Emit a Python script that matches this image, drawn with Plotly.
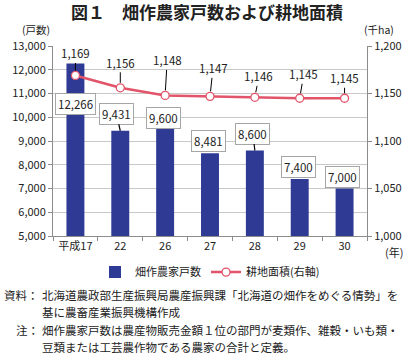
import plotly.graph_objects as go

categories = ["平成17", "22", "26", "27", "28", "29", "30"]
farm_households = [12266, 9431, 9600, 8481, 8600, 7400, 7000]
farmland_area = [1169, 1156, 1148, 1147, 1146, 1145, 1145]

FONT = "Noto Sans CJK JP"
BAR_COLOR = "#2E3A94"
LINE_COLOR = "#E25469"

fig = go.Figure()
fig.add_trace(go.Bar(
    x=categories, y=farm_households, name="畑作農家戸数",
    marker=dict(color=BAR_COLOR, line=dict(width=0)), width=0.4,
))
fig.add_trace(go.Scatter(
    x=categories, y=farmland_area, name="耕地面積(右軸)", yaxis="y2",
    mode="lines+markers",
    line=dict(color=LINE_COLOR, width=2.5),
    marker=dict(symbol="circle", size=8, color="white",
                line=dict(color=LINE_COLOR, width=1.3)),
))

# label offsets (pixels) for bar value labels: (dx, dy, leader)
bar_offsets = [(0, 41, False), (-4, -17, True), (-2, -9, False), (-2, -12, False),
               (-2, -17, True), (-1, -12, False), (-2, -12, False)]
line_offsets = [(0, -22), (0, -25), (2, -35), (3, -28), (4, -21), (4, -24), (0, -20)]

anns = []
for i, (v, (dx, dy, lead)) in enumerate(zip(farm_households, bar_offsets)):
    anns.append(dict(
        x=i, y=v, xref="x", yref="y", text=f"{v:,}",
        showarrow=True, ax=dx, ay=dy, arrowhead=0, arrowwidth=1.2,
        arrowcolor="black" if lead else "rgba(0,0,0,0)",
        bgcolor="white", bordercolor="#A6A6A6", borderwidth=1, borderpad=2,
        font=dict(family=FONT, size=11.5, color="#222"),
    ))
for i, (v, (dx, dy)) in enumerate(zip(farmland_area, line_offsets)):
    anns.append(dict(
        x=i, y=v, xref="x", yref="y2", text=f"{v:,}",
        showarrow=True, ax=dx, ay=dy, arrowhead=0, arrowwidth=1, standoff=5,
        startstandoff=0, arrowcolor="black",
        font=dict(family=FONT, size=11.5, color="#222"),
    ))

# titles and notes
anns += [
    dict(text="<b>図１　畑作農家戸数および耕地面積</b>", xref="paper", yref="paper",
         x=0.49, y=1.0, yshift=35, showarrow=False, xanchor="center", yanchor="middle",
         font=dict(family=FONT, size=17, color="#222")),
    dict(text="(戸数)", xref="paper", yref="paper", x=0, xshift=-17, y=1.0, yshift=17,
         showarrow=False, xanchor="center", yanchor="middle",
         font=dict(family=FONT, size=10.5, color="#222")),
    dict(text="(千ha)", xref="paper", yref="paper", x=1, xshift=12, y=1.0, yshift=17,
         showarrow=False, xanchor="center", yanchor="middle",
         font=dict(family=FONT, size=10.5, color="#222")),
    dict(text="(年)", xref="paper", yref="paper", x=1, xshift=27, y=0, yshift=-16,
         showarrow=False, xanchor="center", yanchor="middle",
         font=dict(family=FONT, size=11, color="#222")),
]
notes = [
    ("資料：", "北海道農政部生産振興局農産振興課「北海道の畑作をめぐる情勢」を", 295),
    ("", "基に農畜産業振興機構作成", 312),
    ("注：", "畑作農家戸数は農産物販売金額１位の部門が麦類作、雑穀・いも類・", 330),
    ("", "豆類または工芸農作物である農家の合計と定義。", 347),
]
T, PH = 46, 190
for head, body, ypx in notes:
    yp = (T + PH - ypx) / PH
    if head:
        anns.append(dict(text=head, xref="paper", yref="paper", x=0, xshift=-12, y=yp,
                         showarrow=False, xanchor="right", yanchor="middle",
                         font=dict(family=FONT, size=11.5, color="#222")))
    anns.append(dict(text=body, xref="paper", yref="paper", x=0, xshift=-13, y=yp,
                     showarrow=False, xanchor="left", yanchor="middle",
                     font=dict(family=FONT, size=11.5, color="#222")))

fig.update_layout(
    width=414, height=357,
    margin=dict(l=50, r=44, t=46, b=121, pad=0),
    paper_bgcolor="white", plot_bgcolor="white",
    font=dict(family=FONT, size=11, color="#222"),
    showlegend=True,
    legend=dict(orientation="h", x=0.5, xanchor="center", y=-0.19, yanchor="middle",
                font=dict(family=FONT, size=11, color="#222"),
                itemwidth=30, traceorder="normal"),
    xaxis=dict(type="category", range=[-0.5, len(categories) - 0.5], autorange=False,
               showline=True, linecolor="#8C8C8C", linewidth=1,
               ticks="outside", tickson="boundaries", ticklen=4, tickcolor="#8C8C8C",
               showgrid=False, tickfont=dict(family=FONT, size=11)),
    yaxis=dict(range=[5000, 13000], dtick=1000, tickformat=",", showline=True,
               linecolor="#8C8C8C", linewidth=1, ticks="outside", ticklen=4,
               tickcolor="#8C8C8C", showgrid=True, gridcolor="#C8C8C8", gridwidth=1,
               zeroline=False, tickfont=dict(family=FONT, size=11)),
    yaxis2=dict(range=[1000, 1200], dtick=50, tickformat=",", overlaying="y",
                side="right", showline=True, linecolor="#8C8C8C", linewidth=1,
                ticks="outside", ticklen=4, tickcolor="#8C8C8C", showgrid=False,
                zeroline=False, tickfont=dict(family=FONT, size=11)),
    annotations=anns,
)

fig.write_html("out.html", config={"displayModeBar": False},
               post_script="document.body.style.margin='0px';document.body.style.overflow='hidden';")
